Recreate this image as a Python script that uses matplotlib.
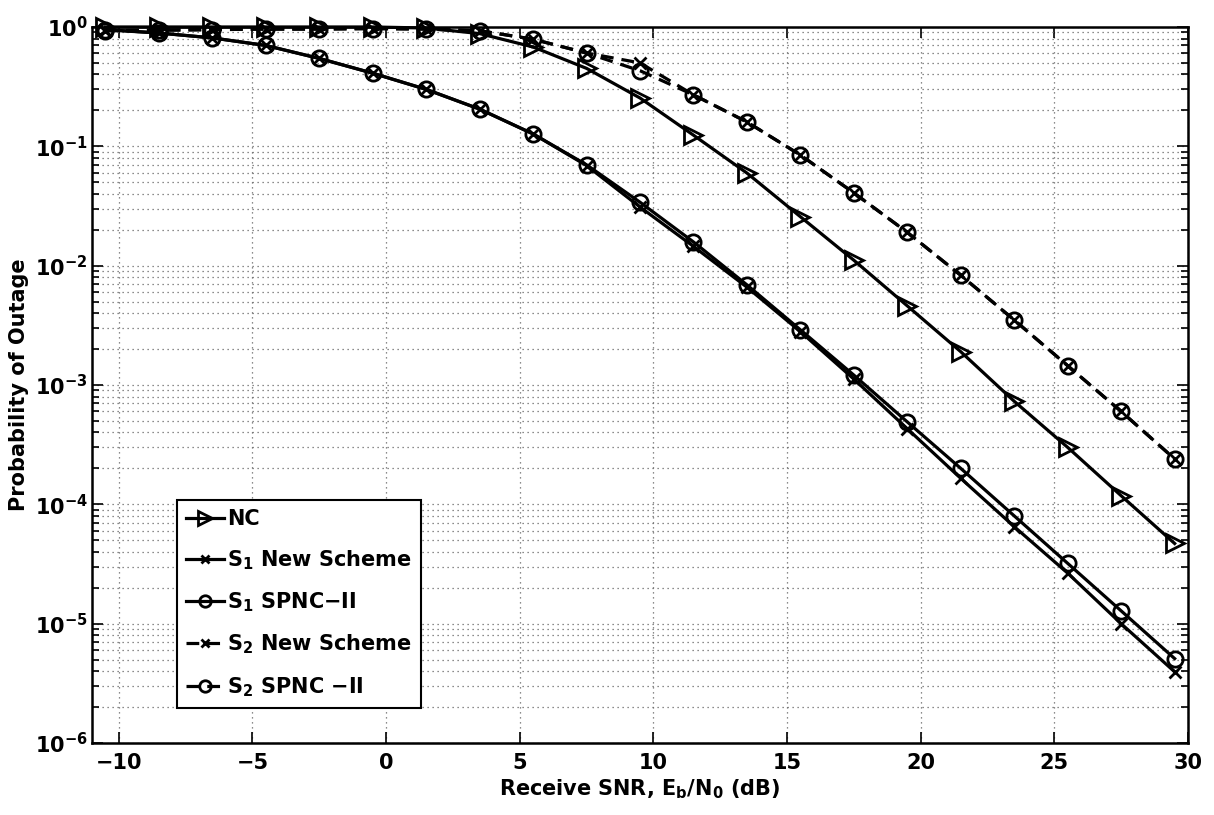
import numpy as np
import matplotlib
matplotlib.use('Agg')
import matplotlib.pyplot as plt
from matplotlib.ticker import MultipleLocator, LogFormatterSciNotation

plt.rcParams['font.family'] = ['DejaVu Sans']
plt.rcParams['font.weight'] = 'bold'
plt.rcParams['mathtext.fontset'] = 'custom'
plt.rcParams['mathtext.rm'] = 'DejaVu Sans:bold'
plt.rcParams['mathtext.it'] = 'DejaVu Sans:bold'
plt.rcParams['mathtext.bf'] = 'DejaVu Sans:bold'
plt.rcParams['axes.unicode_minus'] = True

# Data
snr = [-10.5, -8.5, -6.5, -4.5, -2.5, -0.5, 1.5, 3.5, 5.5, 7.5, 9.5,
       11.5, 13.5, 15.5, 17.5, 19.5, 21.5, 23.5, 25.5, 27.5, 29.5]
nc = [1.0, 1.0, 1.0, 1.0, 1.0, 1.0, 0.98, 0.88, 0.68, 0.45, 0.254,
      0.124, 0.0597, 0.0257, 0.0111, 0.0046, 0.0019, 7.3e-4, 3.0e-4, 1.18e-4, 4.7e-5]
s1_new = [0.95, 0.89, 0.81, 0.70, 0.545, 0.41, 0.30, 0.205, 0.127, 0.069, 0.031,
          0.0145, 0.0066, 0.0028, 0.00112, 4.3e-4, 1.65e-4, 6.5e-5, 2.65e-5, 1.0e-5, 3.95e-6]
s1_spnc = [0.95, 0.89, 0.81, 0.70, 0.545, 0.41, 0.30, 0.205, 0.127, 0.070, 0.034,
           0.0158, 0.0069, 0.0029, 0.00121, 4.9e-4, 2.0e-4, 8.0e-5, 3.2e-5, 1.28e-5, 5.1e-6]
s2_new = [0.93, 0.94, 0.95, 0.96, 0.96, 0.97, 0.96, 0.93, 0.79, 0.605, 0.50,
          0.27, 0.16, 0.0845, 0.0407, 0.019, 0.0083, 0.0035, 0.00145, 6.0e-4, 2.4e-4]
s2_spnc = [0.93, 0.94, 0.95, 0.96, 0.96, 0.97, 0.96, 0.93, 0.79, 0.605, 0.43,
           0.27, 0.16, 0.0845, 0.0407, 0.019, 0.0083, 0.0035, 0.00145, 6.0e-4, 2.4e-4]

fig = plt.figure(figsize=(12.14, 8.15), dpi=100)
ax = fig.add_axes([0.0758, 0.0883, 0.9028, 0.8786])

lw = 2.3
ax.plot(snr, nc, 'k-', marker='>', ms=13, mfc='none', mew=2, lw=lw, clip_on=False, label='NC')
ax.plot(snr, s1_new, 'k-', marker='x', ms=8, mew=2, lw=lw, clip_on=False, label=r'S$_1$ New Scheme')
ax.plot(snr, s1_spnc, 'k-', marker='o', ms=11, mfc='none', mew=2, lw=lw, clip_on=False, label=r'S$_1$ SPNC−II')
ax.plot(snr, s2_new, 'k--', marker='x', ms=8, mew=2, lw=lw, dashes=(4, 2.5), clip_on=False, label=r'S$_2$ New Scheme')
ax.plot(snr, s2_spnc, 'k--', marker='o', ms=11, mfc='none', mew=2, lw=lw, dashes=(4, 2.5), clip_on=False, label=r'S$_2$ SPNC −II')

ax.set_yscale('log')
ax.set_xlim(-11, 30)
ax.set_ylim(1e-6, 1)
ax.xaxis.set_major_locator(MultipleLocator(5))

# fixed decades only inside the view, so no hidden labels sit off the figure
decades = [10.0 ** e for e in range(-6, 1)]
ax.set_yticks(decades)
ax.yaxis.set_major_formatter(LogFormatterSciNotation())
ax.set_yticks([m * d for d in decades[:-1] for m in range(2, 10)], minor=True)
ax.set_yticklabels([], minor=True)

ax.grid(True, which='major', linestyle=(0, (1, 3)), color='0.4', lw=0.9)
ax.grid(True, which='minor', axis='y', linestyle=(0, (1, 3)), color='0.4', lw=0.9)

ax.tick_params(which='both', direction='in', top=True, right=True, labelsize=15, width=1.2)
ax.tick_params(which='major', length=8)
ax.tick_params(which='minor', length=5)
ax.tick_params(axis='x', which='major', pad=7)
ax.tick_params(axis='y', which='major', pad=3)
for s in ax.spines.values():
    s.set_linewidth(1.8)

ax.set_xlabel(r'Receive SNR, E$_b$/N$_0$ (dB)', fontsize=15, fontweight='bold', labelpad=3)
ax.set_ylabel('Probability of Outage', fontsize=15, fontweight='bold', labelpad=4)

leg = ax.legend(loc='lower left', bbox_to_anchor=(0.0776, 0.0489), borderaxespad=0,
                fontsize=15, fancybox=False, edgecolor='k', framealpha=1, markerscale=0.75,
                handlelength=1.8, handletextpad=0.15, labelspacing=0.9, borderpad=0.45)
leg.get_frame().set_linewidth(1.5)

plt.savefig('out.png', dpi=100)
